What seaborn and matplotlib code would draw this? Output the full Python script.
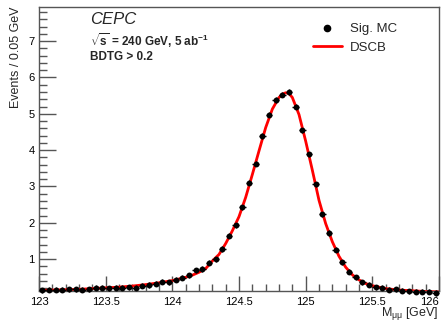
import numpy as np
import pandas as pd
import matplotlib
matplotlib.use("Agg")
import matplotlib.pyplot as plt
import seaborn as sns
from matplotlib.lines import Line2D

# ---------------- data ----------------
bin_width = 0.05
bin_centers = np.round(123.025 + bin_width * np.arange(60), 3)
sig_mc = [0.14, 0.16, 0.16, 0.16, 0.17, 0.17, 0.16, 0.17, 0.22, 0.21,
          0.20, 0.21, 0.22, 0.23, 0.22, 0.27, 0.29, 0.33, 0.38, 0.36,
          0.44, 0.49, 0.56, 0.69, 0.73, 0.90, 1.00, 1.28, 1.64, 1.93,
          2.43, 3.10, 3.63, 4.39, 4.98, 5.38, 5.53, 5.60, 5.19, 4.55,
          3.89, 3.06, 2.23, 1.72, 1.26, 0.92, 0.65, 0.50, 0.36, 0.30,
          0.23, 0.21, 0.16, 0.17, 0.13, 0.12, 0.11, 0.10, 0.10, 0.07]
sig_err = 0.07

dscb_x = [123.0, 123.1, 123.2, 123.3, 123.4, 123.5, 123.6, 123.7, 123.8, 123.9,
          124.0, 124.1, 124.15, 124.2, 124.25, 124.3, 124.35, 124.4, 124.45, 124.5,
          124.55, 124.6, 124.65, 124.7, 124.75, 124.8, 124.825, 124.85, 124.875, 124.9,
          124.95, 125.0, 125.05, 125.1, 125.15, 125.2, 125.25, 125.3, 125.35, 125.4,
          125.45, 125.5, 125.6, 125.7, 125.8, 125.9, 126.0]
dscb_y = [0.14, 0.15, 0.16, 0.17, 0.19, 0.21, 0.23, 0.26, 0.30, 0.35,
          0.41, 0.50, 0.56, 0.64, 0.74, 0.95, 1.13, 1.43, 1.78, 2.17,
          2.70, 3.33, 3.98, 4.62, 5.13, 5.45, 5.54, 5.58, 5.56, 5.45,
          4.98, 4.25, 3.45, 2.62, 1.98, 1.48, 1.08, 0.78, 0.57, 0.43,
          0.33, 0.27, 0.19, 0.15, 0.13, 0.11, 0.10]

legend_labels = ["Sig. MC", "DSCB"]
x_ticks = [123, 123.5, 124, 124.5, 125, 125.5, 126]
x_ticklabels = ["123", "123.5", "124", "124.5", "125", "125.5", "126"]
y_ticks = [1, 2, 3, 4, 5, 6, 7]

# ---------------- style ----------------
sns.set_theme(style="white")
plt.rcParams["font.family"] = ["Liberation Sans", "DejaVu Sans"]
plt.rcParams["mathtext.fontset"] = "custom"
plt.rcParams["mathtext.rm"] = "Liberation Sans"
plt.rcParams["mathtext.bf"] = "Liberation Sans:bold"
plt.rcParams["mathtext.it"] = "Liberation Sans:italic"

fig = plt.figure(figsize=(4.47, 3.23), dpi=100)
ax = fig.add_axes([39 / 447, 1 - 291 / 323, 400 / 447, 284 / 323])

df_pts = pd.DataFrame({"x": bin_centers, "y": sig_mc})
df_fit = pd.DataFrame({"x": dscb_x, "y": dscb_y})

sns.lineplot(data=df_fit, x="x", y="y", ax=ax, color="#ff0000", linewidth=2.0,
             zorder=2, sort=True, estimator=None)
ax.errorbar(df_pts["x"], df_pts["y"], xerr=bin_width / 2, yerr=sig_err,
            fmt="none", ecolor="black", elinewidth=1.0, zorder=3, clip_on=False)
sns.scatterplot(data=df_pts, x="x", y="y", ax=ax, color="black", s=18,
                edgecolor="black", linewidth=0, zorder=4, clip_on=False)

ax.set_xlim(123, 126)
ax.set_ylim(0.124, 7.94)

ax.set_xticks(x_ticks)
ax.set_xticklabels(x_ticklabels)
ax.set_xticks(np.arange(123, 126.001, 0.1), minor=True)
ax.set_yticks(y_ticks)
ax.set_yticks(np.arange(0.2, 7.9, 0.2), minor=True)

frame_col = "#555555"
for sp in ax.spines.values():
    sp.set_color(frame_col)
    sp.set_linewidth(1.0)
ax.tick_params(axis="both", which="both", direction="in", colors=frame_col,
               labelcolor="black", labelsize=8, top=False, right=False,
               bottom=True, left=True)
ax.tick_params(axis="x", which="major", length=11, width=1.0, pad=4)
ax.tick_params(axis="x", which="minor", length=5, width=1.0)
ax.tick_params(axis="y", which="major", length=12, width=1.0, pad=3)
ax.tick_params(axis="y", which="minor", length=6, width=1.0)
ax.grid(False)

# keep the last x tick label inside the canvas
ax.get_xticklabels()[-1].set_horizontalalignment("right")

ax.set_xlabel(r"M$_{\mathregular{μμ}}$ [GeV]", fontsize=9, loc="right", labelpad=-1)
ax.set_ylabel("Events / 0.05 GeV", fontsize=9, loc="top", labelpad=5)

ax.text(90 / 447, 1 - 20 / 323, "CEPC", transform=fig.transFigure, fontsize=12,
        style="italic", ha="left", va="center")
ax.text(90 / 447, 1 - 41 / 323, r"$\sqrt{\mathbf{s}}$ = 240 GeV, 5 ab$^{\mathbf{-1}}$",
        transform=fig.transFigure, fontsize=8.5, fontweight="bold", ha="left", va="center")
ax.text(90 / 447, 1 - 57 / 323, "BDTG > 0.2", transform=fig.transFigure, fontsize=8.5,
        fontweight="bold", ha="left", va="center")

handles = [Line2D([], [], marker="o", color="black", linestyle="none", markersize=4.5),
           Line2D([], [], color="#ff0000", linewidth=2)]
ax.legend(handles, legend_labels, loc="upper left", bbox_to_anchor=(0.655, 0.985),
          frameon=False, fontsize=9.5, handlelength=2.2, handletextpad=0.6,
          labelspacing=0.45)

fig.savefig("out.png", dpi=100)
